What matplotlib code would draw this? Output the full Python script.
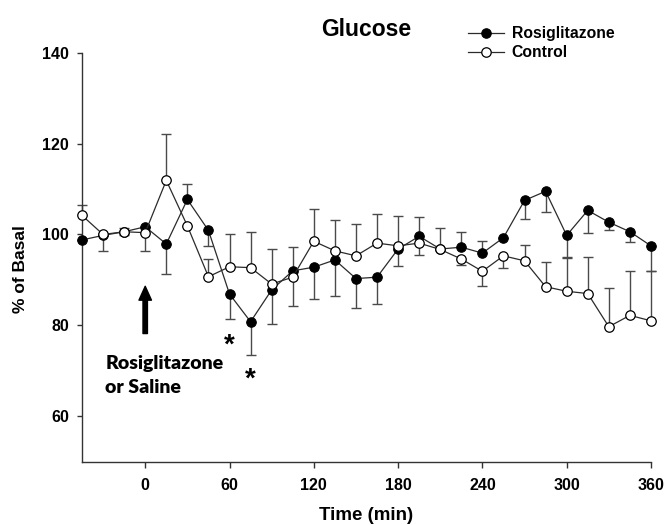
import matplotlib
matplotlib.use('Agg')
import matplotlib.pyplot as plt

plt.rcParams['font.family'] = ['Liberation Sans', 'DejaVu Sans']
plt.rcParams['font.weight'] = 'bold'

# time points (min)
time = [-45, -30, -15, 0, 15, 30, 45, 60, 75, 90, 105, 120, 135, 150,
        165, 180, 195, 210, 225, 240, 255, 270, 285, 300, 315, 330, 345, 360]

rosi = [98.8, 99.8, 100.6, 101.7, 97.9, 107.7, 100.9, 86.9, 80.8, 87.8,
        92.0, 92.8, 94.4, 90.3, 90.6, 96.8, 99.6, 96.8, 97.2, 95.9,
        99.3, 107.5, 109.5, 99.8, 105.3, 102.7, 100.6, 97.5]
rosi_err_dn = [0, 3.4, 0, 0, 6.6, 0, 3.5, 5.5, 7.3, 7.6,
               7.7, 7.0, 7.9, 6.5, 5.8, 3.7, 0, 0, 0, 0,
               0, 4.1, 4.6, 5.0, 5.0, 1.7, 2.3, 5.5]
rosi_err_up = [0, 0, 0.9, 0, 0, 3.3, 0, 0, 0, 0,
               0, 0, 0, 0, 0, 0, 4.2, 4.6, 3.3, 2.6,
               0, 0, 0, 0, 0, 0, 0, 0]

ctrl = [104.2, 100.0, 100.6, 100.4, 111.9, 101.9, 90.7, 92.9, 92.7, 89.1,
        90.6, 98.5, 96.4, 95.3, 98.1, 97.5, 98.1, 96.7, 94.6, 91.9,
        95.3, 94.2, 88.5, 87.5, 87.0, 79.7, 82.2, 81.0]
ctrl_err_dn = [0, 0, 0.7, 4.0, 0, 0, 0, 0, 0, 0,
               0, 0, 0, 0, 0, 0, 2.6, 0, 1.3, 3.2,
               2.7, 0, 0, 0, 0, 0, 0, 0]
ctrl_err_up = [2.2, 0, 0, 0, 10.3, 0, 3.9, 7.1, 7.8, 7.8,
               6.7, 7.1, 6.7, 7.0, 6.3, 6.5, 0, 0, 0, 0,
               0, 3.5, 5.5, 7.5, 8.1, 8.5, 9.8, 11.0]

fig = plt.figure(figsize=(6.65, 5.25), dpi=100)
ax = fig.add_axes([0.1233, 0.1206, 0.8556, 0.779])

line_col = '#2b2b2b'
err_col = '#4a4a4a'

ax.errorbar(time, rosi, yerr=[rosi_err_dn, rosi_err_up], fmt='none', ecolor=err_col,
            elinewidth=1.0, capsize=3.5, capthick=1.0, zorder=2, clip_on=False)
ax.errorbar(time, ctrl, yerr=[ctrl_err_dn, ctrl_err_up], fmt='none', ecolor=err_col,
            elinewidth=1.0, capsize=3.5, capthick=1.0, zorder=2, clip_on=False)

ax.plot(time, rosi, color=line_col, lw=0.9, marker='o', markersize=6.8,
        markerfacecolor='black', markeredgecolor='black', markeredgewidth=0.8,
        label='Rosiglitazone', zorder=3, clip_on=False)
ax.plot(time, ctrl, color=line_col, lw=0.9, marker='o', markersize=6.8,
        markerfacecolor='white', markeredgecolor='black', markeredgewidth=0.9,
        label='Control', zorder=4, clip_on=False)

# injection arrow and note
ax.annotate('', xy=(0, 88.6), xytext=(0, 78.2),
            arrowprops=dict(width=3.2, headwidth=9, headlength=10, shrink=0,
                            color='black'))
ax.text(-28.5, 70.4, 'Rosiglitazone', fontsize=14, fontweight='heavy',
        family=['Lato', 'DejaVu Sans'], va='baseline', ha='left')
ax.text(-28.5, 65.1, 'or Saline', fontsize=14, fontweight='heavy',
        family=['Lato', 'DejaVu Sans'], va='baseline', ha='left')

# significance marks
ax.text(60, 75.6, '*', fontsize=20, ha='center', va='center')
ax.text(75, 68.1, '*', fontsize=20, ha='center', va='center')

ax.set_xlim(-45, 360)
ax.set_ylim(50, 140)
ax.set_xticks([0, 60, 120, 180, 240, 300, 360])
ax.set_yticks([60, 80, 100, 120, 140])

for s in ['top', 'right']:
    ax.spines[s].set_visible(False)
for s in ['left', 'bottom']:
    ax.spines[s].set_linewidth(1.0)
    ax.spines[s].set_color('#333333')

ax.tick_params(axis='x', direction='out', length=4, width=1, pad=8, labelsize=11.5,
               color='#333333')
ax.tick_params(axis='y', direction='out', length=3.3, width=1, pad=6, labelsize=11.5,
               color='#333333')
for lab in ax.get_xticklabels() + ax.get_yticklabels():
    lab.set_fontweight('bold')

ax.set_xlabel('Time (min)', fontsize=13.5, fontweight='bold', labelpad=10)
ax.set_ylabel('% of Basal', fontsize=12.5, fontweight='bold')
ax.yaxis.set_label_coords(-0.095, 0.47)

ax.set_title('Glucose', fontsize=16.5, fontweight='bold', pad=12)

leg = ax.legend(loc='center left', bbox_to_anchor=(467.6 / 665, 1 - 43.3 / 525),
                bbox_transform=fig.transFigure, frameon=False, fontsize=11.3,
                handlelength=2.3, handletextpad=0.5, labelspacing=0.25,
                borderpad=0, borderaxespad=0)

fig.savefig('out.png', dpi=100)
